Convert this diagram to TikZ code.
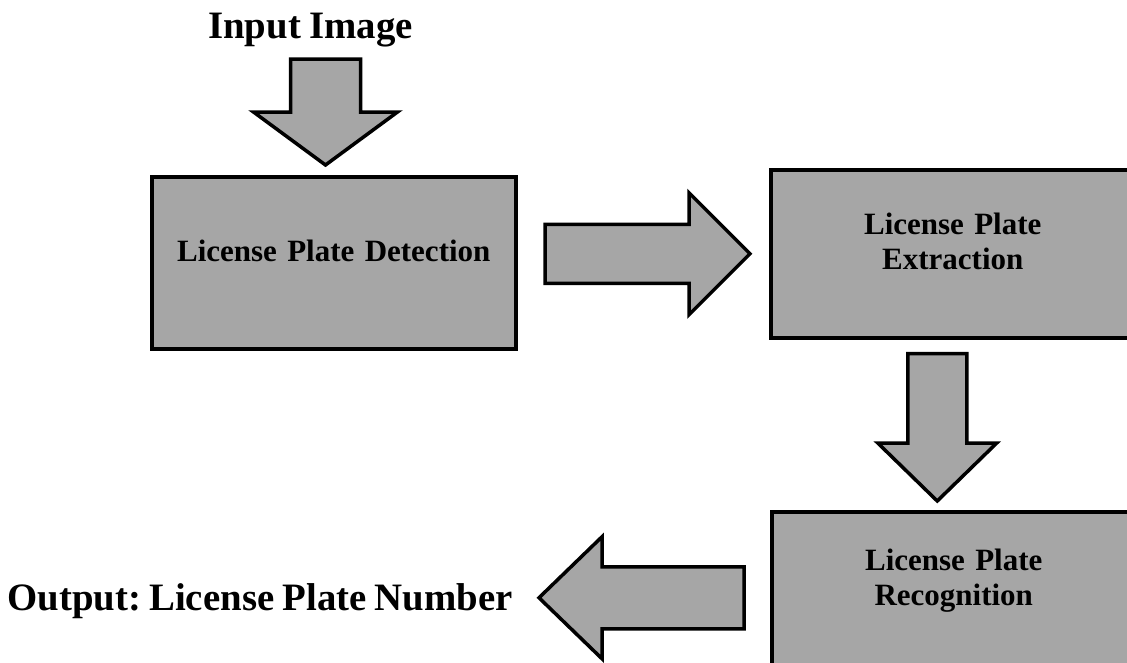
\documentclass[tikz,border=0pt]{standalone}
\usepackage{fontspec}
\setmainfont{Liberation Serif}[WordSpace=0.85]
\frenchspacing
\definecolor{boxgray}{RGB}{166,166,166}
\usetikzlibrary{calc, positioning}

\tikzset{
  stage/.style={draw=black, line width=3.5pt, fill=boxgray, inner sep=0pt,
    text width=364pt, align=center,
    font=\bfseries\fontsize{31}{35}\selectfont},
  iolabel/.style={inner sep=0pt, font=\bfseries\fontsize{38.8}{44}\selectfont},
  % shaft half width / head half width / head length
  fatarrow/.style args={#1/#2/#3}{draw=black, line width=3.5pt, fill=boxgray,
    line join=miter,
    to path={($(\tikztostart)!#1!90:(\tikztotarget)$)
      -- ($($(\tikztotarget)!#3!(\tikztostart)$)!#1!90:(\tikztotarget)$)
      -- ($($(\tikztotarget)!#3!(\tikztostart)$)!#2!90:(\tikztotarget)$)
      -- (\tikztotarget)
      -- ($($(\tikztotarget)!#3!(\tikztostart)$)!#2!-90:(\tikztotarget)$)
      -- ($($(\tikztotarget)!#3!(\tikztostart)$)!#1!-90:(\tikztotarget)$)
      -- ($(\tikztostart)!#1!-90:(\tikztotarget)$) -- cycle}}
}

\begin{document}
\begin{tikzpicture}[x=1pt, y=-1pt]
  \useasboundingbox (0,0) rectangle (1127,662);
  % stages
  \node[stage, text height=85pt, text depth=87pt, anchor=north west] (det) at (150,175) {License Plate Detection};
  \node[stage, text height=65pt, text depth=103pt, anchor=north west] (ext) at (769,168) {License Plate\\Extraction};
  \node[stage, text height=59pt, text depth=113pt, anchor=north west] (rec) at (770,510) {License Plate\\Recognition};
  % input and output
  \node[iolabel, anchor=base] (inimg) at (310.5,38) {Input Image};
  \node[iolabel, anchor=base east] (outnum) at (513,610) {Output: License Plate Number};
  % block arrows
  \draw[fatarrow=35pt/72pt/53pt] ($(inimg.base)+(15,21)$) to ($(det.north west)+(175.5,-10)$);
  \draw[fatarrow=29.5pt/61pt/61pt] ($(ext.west)+(-224,0)$) to ($(ext.west)+(-19,0)$);
  \draw[fatarrow=29.5pt/59.5pt/58pt] ($(ext.south)+(-15.5,14)$) to ($(rec.north)+(-16.5,-9)$);
  \draw[fatarrow=31pt/61pt/63pt] ($(rec.west)+(-26,0)$) to ($(rec.west)+(-231,0)$);
\end{tikzpicture}
\end{document}
